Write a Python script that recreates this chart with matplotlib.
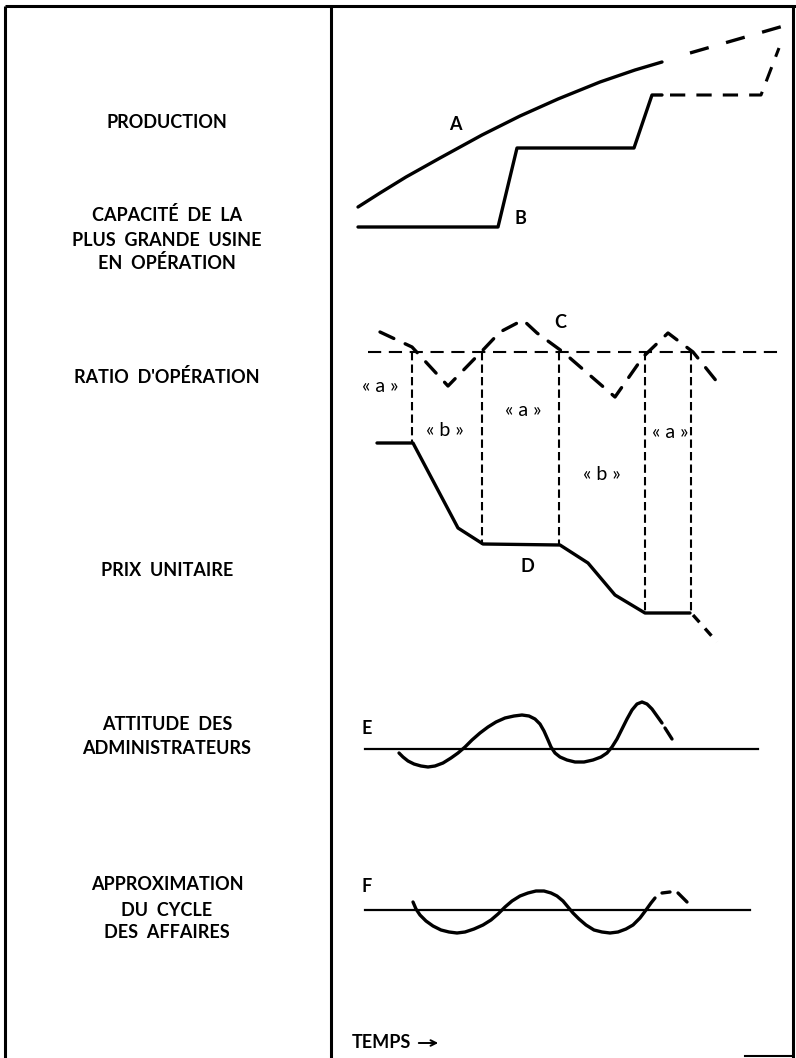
import matplotlib.pyplot as plt

plt.rcParams['font.family'] = ['Lato', 'DejaVu Sans']
plt.rcParams['lines.scale_dashes'] = False

# row labels of the left column (text, y in pixels)
row_labels = [
    ('PRODUCTION', 123),
    ('CAPACITÉ  DE  LA', 215),
    ('PLUS  GRANDE  USINE', 240),
    ('EN  OPÉRATION', 263),
    ('RATIO  D\'OPÉRATION', 377),
    ('PRIX  UNITAIRE', 570),
    ('ATTITUDE  DES', 725),
    ('ADMINISTRATEURS', 748),
    ('APPROXIMATION', 885),
    ('DU  CYCLE', 910),
    ('DES  AFFAIRES', 933),
]

# A: production (solid, then projected)
a_x = [358, 380, 406, 440, 482, 520, 558, 600, 635, 662]
a_y = [207, 193, 177, 158, 135, 116, 99, 82, 70, 62]
a_proj_x = [690, 787]
a_proj_y = [53, 25]

# B: capacity of largest plant
b_x = [358, 498, 517, 634, 652, 662]
b_y = [227, 227, 148, 148, 95, 95]
b_proj_x = [670, 761, 779]
b_proj_y = [95, 95, 48]

# C: operating ratio
c_level = 352
c_x = [380, 412, 448, 483, 500, 523, 537, 563, 615, 643, 668, 693, 722]
c_y = [332, 347, 386, 350, 332, 320, 333, 352, 397, 357, 333, 352, 388]

# D: unit price
d_x = [377, 413, 458, 483, 560, 588, 615, 645, 690]
d_y = [443, 443, 528, 544, 545, 563, 595, 613, 613]
d_proj_x = [693, 717]
d_proj_y = [615, 642]

# phase boundaries (x, bottom y)
bound_x = [412, 482, 559, 645, 691]
bound_bottom = [442, 545, 545, 613, 613]
phase_labels = [('« a »', 380, 386), ('« b »', 445, 430), ('« a »', 523, 411),
                ('« b »', 602, 475), ('« a »', 670, 432)]

# E: attitude of managers
e_level = 749
e_x = [399, 403, 408, 414, 421, 428, 435, 443, 451, 458, 465, 472, 480, 488,
       496, 505, 514, 522, 529, 535, 540, 544, 548, 551, 555, 560, 567, 575,
       584, 593, 601, 607, 612, 617, 622, 627, 632, 637, 642, 647, 652, 657, 662]
e_y = [753, 757, 761, 764, 766, 767, 766, 763, 758, 753, 747, 740, 733, 727,
       722, 718, 716, 715, 716, 719, 724, 731, 740, 747, 753, 757, 760, 762,
       762, 760, 757, 753, 747, 739, 729, 719, 710, 704, 702, 704, 709, 716, 723]
e_proj_x = [665, 672]
e_proj_y = [728, 739]

# F: business cycle
f_level = 910
f_x = [413, 416, 420, 426, 433, 441, 449, 457, 465, 474, 483, 491, 498, 505,
       512, 520, 528, 536, 544, 551, 557, 563, 568, 573, 579, 586, 594, 602,
       610, 618, 626, 633, 640, 646, 651, 655]
f_y = [902, 909, 915, 921, 926, 930, 932, 933, 932, 929, 925, 920, 914, 907,
       901, 896, 893, 891, 891, 893, 896, 901, 907, 913, 919, 925, 930, 932,
       933, 932, 929, 925, 918, 910, 903, 898]
f_proj = [([662, 670], [893, 892]), ([678, 687], [893, 902])]

fig = plt.figure(figsize=(7.96, 10.58), dpi=100)
ax = fig.add_axes([0, 0, 1, 1])
ax.set_xlim(0, 796)
ax.set_ylim(1058, 0)
ax.axis('off')

# frame
k = dict(color='black', lw=2.2, solid_capstyle='butt')
ax.plot([5, 5], [6, 1058], **k)
ax.plot([5, 796], [6, 6], **k)
ax.plot([793, 793], [6, 1058], **k)
ax.plot([331, 331], [6, 1058], **k)
ax.plot([745, 793], [1056, 1056], color='black', lw=1.5)

tk = dict(ha='center', va='center', fontsize=13, fontweight='bold')
for txt, y in row_labels:
    ax.text(167, y, txt, **tk)

solid = dict(color='black', lw=2.4, solid_joinstyle='round', solid_capstyle='round')
dash = dict(color='black', lw=2.4, dashes=(11, 9), dash_capstyle='round')

ax.plot(a_x, a_y, **solid)
ax.plot(a_proj_x, a_proj_y, color='black', lw=2.4, dashes=(14, 13))
ax.text(455, 125, 'A', **tk)

ax.plot(b_x, b_y, **solid)
ax.plot(b_proj_x, b_proj_y, color='black', lw=2.2, dashes=(11, 8))
ax.text(520, 218, 'B', **tk)

ax.plot([368, 780], [c_level, c_level], color='black', lw=1.5, dashes=(9.5, 5.5))
ax.plot(c_x, c_y, **dash)
ax.text(560, 323, 'C', **tk)

for x, yb in zip(bound_x, bound_bottom):
    ax.plot([x, x], [c_level, yb], color='black', lw=1.5, dashes=(6, 3))
for txt, x, y in phase_labels:
    ax.text(x, y, txt, ha='center', va='center', fontsize=14)

ax.plot(d_x, d_y, **solid)
ax.plot(d_proj_x, d_proj_y, color='black', lw=2.4, dashes=(7, 6))
ax.text(527, 567, 'D', **tk)

ax.plot([365, 758], [e_level, e_level], color='black', lw=1.6)
ax.plot(e_x, e_y, **solid)
ax.plot(e_proj_x, e_proj_y, color='black', lw=2.4, solid_capstyle='round')
ax.text(367, 728, 'E', **tk)

ax.plot([365, 750], [f_level, f_level], color='black', lw=1.6)
ax.plot(f_x, f_y, **solid)
for px, py in f_proj:
    ax.plot(px, py, color='black', lw=2.4, solid_capstyle='round')
ax.text(367, 887, 'F', **tk)

ax.text(352, 1043, 'TEMPS', ha='left', va='center', fontsize=13, fontweight='bold')
ax.annotate('', xy=(441, 1043), xytext=(416, 1043),
            arrowprops=dict(arrowstyle='->', color='black', lw=1.4))

fig.savefig('out.png', dpi=100)
